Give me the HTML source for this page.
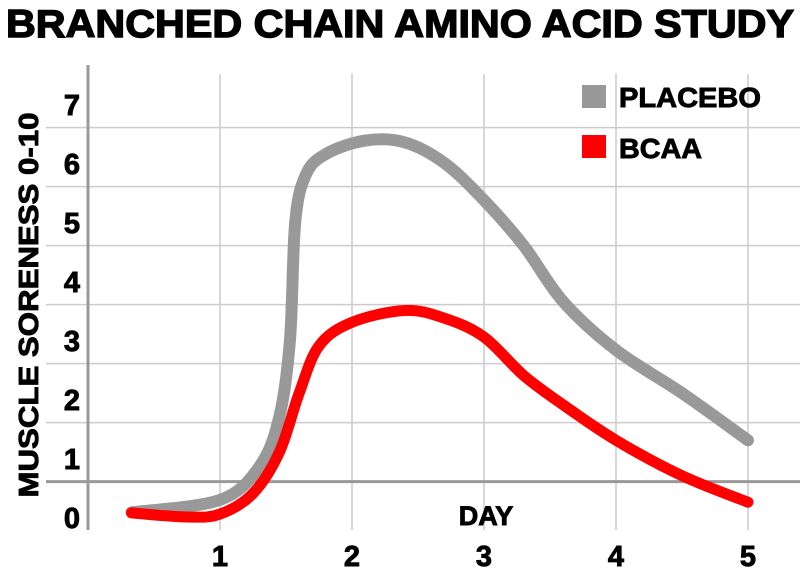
<!DOCTYPE html>
<html><head><meta charset="utf-8"><style>
html,body{margin:0;padding:0;background:#fff;}
svg{display:block;font-family:"Liberation Sans",Arial,sans-serif;font-weight:bold;}
text{stroke:#000;stroke-width:0.9;}
</style></head><body>
<svg id="chart" width="800" height="571" viewBox="0 0 800 571" xmlns="http://www.w3.org/2000/svg">
<text x="6" y="37" font-size="39" textLength="788" lengthAdjust="spacingAndGlyphs" fill="#000" style="stroke-width:1.4">BRANCHED CHAIN AMINO ACID STUDY</text>
<g id="grid"></g>
<g id="series"></g>
<text transform="translate(38,305) rotate(-90)" text-anchor="middle" font-size="28" fill="#000" textLength="385" lengthAdjust="spacingAndGlyphs">MUSCLE SORENESS 0-10</text>
<text x="486" y="525" text-anchor="middle" font-size="27" fill="#000">DAY</text>
<g>
<rect x="582" y="85" width="24" height="23" fill="#999"/>
<text x="619" y="107" font-size="28" fill="#000" textLength="142" lengthAdjust="spacingAndGlyphs">PLACEBO</text>
<rect x="582" y="135" width="24" height="23" fill="#f00"/>
<text x="619" y="158" font-size="28" fill="#000" textLength="83" lengthAdjust="spacingAndGlyphs">BCAA</text>
</g>
</svg>
<script>
const xTicks = [1, 2, 3, 4, 5];
const yTicks = [0, 1, 2, 3, 4, 5, 6, 7];
const placeboDays = [0.33, 1, 1.3, 1.45, 1.53, 1.57, 1.65, 1.8, 2.1, 2.4, 2.7, 3, 3.3, 3.6, 4, 4.5, 5];
const placeboValues = [0.08, 0.29, 0.86, 1.7, 3.0, 5.0, 5.8, 6.15, 6.38, 6.35, 6.0, 5.37, 4.6, 3.65, 2.83, 2.1, 1.3];
const bcaaDays = [0.33, 0.75, 1, 1.25, 1.45, 1.6, 1.75, 2, 2.4, 2.7, 3, 3.3, 3.6, 4, 4.5, 5];
const bcaaValues = [0.07, 0.0, 0.05, 0.4, 1.1, 2.1, 2.9, 3.3, 3.5, 3.37, 3.05, 2.4, 1.9, 1.3, 0.7, 0.25];

const NS = 'http://www.w3.org/2000/svg';
function xScale(d){ return 88 + d * 132; }
function yScale(v){ return 517 - v * 59; }

const grid = document.getElementById('grid');
xTicks.forEach(t => {
  const l = document.createElementNS(NS, 'line');
  
  
  l.setAttribute('x1', xScale(t)); l.setAttribute('x2', xScale(t));
  l.setAttribute('y1', 74); l.setAttribute('y2', 530);
  l.setAttribute('stroke', '#ccc'); l.setAttribute('stroke-width', 1.5);
  grid.appendChild(l);
  const tx = document.createElementNS(NS, 'text');
  
  
  tx.setAttribute('x', xScale(t)); tx.setAttribute('y', 566);
  tx.setAttribute('text-anchor', 'middle'); tx.setAttribute('font-size', 29);
  tx.textContent = t;
  grid.appendChild(tx);
});
yTicks.forEach((t, i) => {
  if (i < yTicks.length - 1) {
    const l = document.createElementNS(NS, 'line');
    
    
    const y = yScale(t + 0.6);
    l.setAttribute('x1', 46); l.setAttribute('x2', 800);
    l.setAttribute('y1', y); l.setAttribute('y2', y);
    l.setAttribute('stroke', t === 0 ? '#999' : '#ccc');
    l.setAttribute('stroke-width', t === 0 ? 3 : 1.5);
    grid.appendChild(l);
  }
  const tx = document.createElementNS(NS, 'text');
  
  
  tx.setAttribute('x', 72); tx.setAttribute('y', yScale(t) + 11);
  tx.setAttribute('text-anchor', 'middle'); tx.setAttribute('font-size', 29);
  tx.textContent = t;
  grid.appendChild(tx);
});
const axis = document.createElementNS(NS, 'line');


axis.setAttribute('x1', 88); axis.setAttribute('x2', 88);
axis.setAttribute('y1', 65); axis.setAttribute('y2', 530);
axis.setAttribute('stroke', '#999'); axis.setAttribute('stroke-width', 3);
grid.appendChild(axis);

function smoothPath(days, vals){
  const p = days.map((d, i) => [xScale(d), yScale(vals[i])]);
  let s = 'M' + p[0][0] + ',' + p[0][1];
  for (let i = 0; i < p.length - 1; i++) {
    const p0 = p[Math.max(0, i - 1)], p1 = p[i], p2 = p[i + 1], p3 = p[Math.min(p.length - 1, i + 2)];
    const c1 = [p1[0] + (p2[0] - p0[0]) / 6, p1[1] + (p2[1] - p0[1]) / 6];
    const c2 = [p2[0] - (p3[0] - p1[0]) / 6, p2[1] - (p3[1] - p1[1]) / 6];
    s += ' C' + c1.join(',') + ' ' + c2.join(',') + ' ' + p2.join(',');
  }
  return s;
}
const series = document.getElementById('series');
const pl = document.createElementNS(NS, 'path');


pl.setAttribute('d', smoothPath(placeboDays, placeboValues));
pl.setAttribute('fill', 'none'); pl.setAttribute('stroke', '#999');
pl.setAttribute('stroke-width', 12); pl.setAttribute('stroke-linecap', 'round'); pl.setAttribute('stroke-linejoin', 'round');
series.appendChild(pl);
const bc = document.createElementNS(NS, 'path');


bc.setAttribute('d', smoothPath(bcaaDays, bcaaValues));
bc.setAttribute('fill', 'none'); bc.setAttribute('stroke', '#f00');
bc.setAttribute('stroke-width', 11); bc.setAttribute('stroke-linecap', 'round'); bc.setAttribute('stroke-linejoin', 'round');
series.appendChild(bc);
</script>
</body></html>
